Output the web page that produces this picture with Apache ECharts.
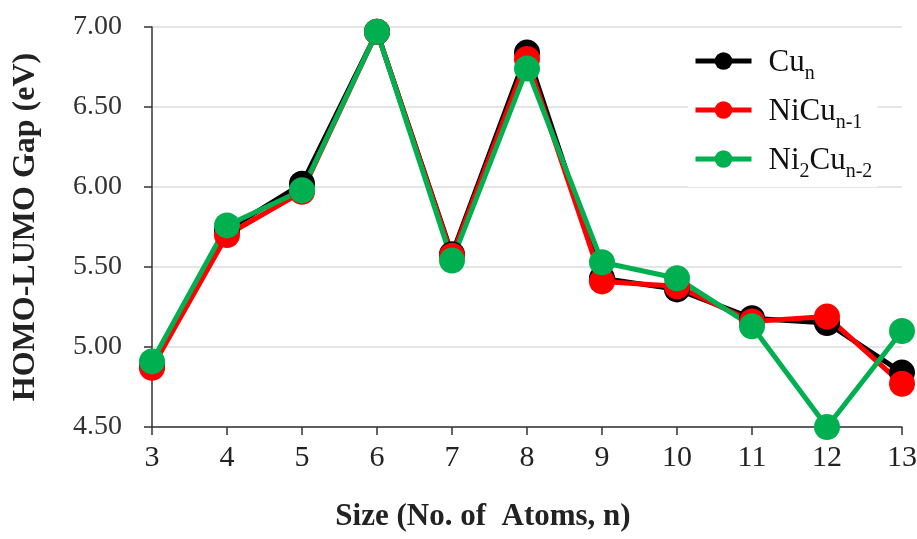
<!DOCTYPE html>
<html>
<head>
<meta charset="utf-8">
<script src="https://cdn.jsdelivr.net/npm/echarts@6/dist/echarts.min.js"></script>
<style>
  html, body { margin: 0; padding: 0; background: #fff; }
  #chart { width: 917px; height: 539px; }
</style>
</head>
<body>
<div id="chart"></div>
<script>
// cluster size n
const sizes = ["3", "4", "5", "6", "7", "8", "9", "10", "11", "12", "13"];
// HOMO-LUMO gaps (eV)
const cuN     = [4.88, 5.73, 6.02, 6.97, 5.58, 6.84, 5.43, 5.36, 5.18, 5.15, 4.84];
const niCuN1  = [4.87, 5.70, 5.97, 6.97, 5.57, 6.80, 5.41, 5.38, 5.16, 5.19, 4.77];
const ni2CuN2 = [4.91, 5.76, 5.98, 6.97, 5.54, 6.74, 5.53, 5.43, 5.13, 4.50, 5.10];
const yTicks = { min: 4.5, max: 7.0, step: 0.5 };

const seriesNames = ["Cu_n", "NiCu_n-1", "Ni2Cu_n-2"];
const seriesColors = ["#000000", "#ff0000", "#00b050"];

const serif = "'Liberation Serif', 'DejaVu Serif', serif";

function makeLine(name, data, color) {
  return {
    name: name,
    type: "line",
    data: data,
    symbol: "circle",
    symbolSize: 26,
    lineStyle: { color: color, width: 5 },
    itemStyle: { color: color },
    z: 3
  };
}

let chart = echarts.init(document.getElementById("chart"));
let option = {
  animation: false,
  backgroundColor: "#fff",
  grid: { left: 152, right: 15, top: 27, bottom: 112, outerBoundsMode: "none", containLabel: false },
  legend: {
    data: seriesNames,
    orient: "vertical",
    left: 688,
    top: 42,
    itemGap: 12,
    itemWidth: 56,
    itemHeight: 22,
    backgroundColor: "#fff",
    lineStyle: { width: 5 },
    formatter: function (name) {
      // subscripts for the formula names
      if (name === "Cu_n") return "{b|Cu}{s|n}";
      if (name === "NiCu_n-1") return "{b|NiCu}{s|n-1}";
      return "{b|Ni}{s|2}{b|Cu}{s|n-2}";
    },
    textStyle: {
      fontFamily: serif,
      padding: [0, 0, 0, 12],
      rich: {
        b: { fontFamily: serif, fontSize: 31, color: "#111", lineHeight: 34, verticalAlign: "bottom" },
        s: { fontFamily: serif, fontSize: 20, color: "#111", lineHeight: 34, verticalAlign: "bottom", padding: [0, 0, -6, 0] }
      }
    }
  },
  xAxis: {
    type: "category",
    data: sizes,
    boundaryGap: false,
    name: "Size (No. of  Atoms, n)",
    nameLocation: "middle",
    nameGap: 74,
    nameTextStyle: {
      fontFamily: serif, fontWeight: "bold", fontSize: 31, color: "#222",
      padding: [0, 88, 0, 0]
    },
    axisLine: { lineStyle: { color: "#333", width: 1.5 } },
    axisTick: { show: true, alignWithLabel: true, length: 8, lineStyle: { color: "#333", width: 1.5 } },
    axisLabel: { fontFamily: serif, fontSize: 30, color: "#222", margin: 16 },
    splitLine: { show: false }
  },
  yAxis: {
    type: "value",
    min: yTicks.min,
    max: yTicks.max,
    interval: yTicks.step,
    name: "HOMO-LUMO Gap (eV)",
    nameLocation: "middle",
    nameRotate: 90,
    nameGap: 110,
    nameTextStyle: { fontFamily: serif, fontWeight: "bold", fontSize: 32, color: "#222" },
    axisLine: { show: true, lineStyle: { color: "#333", width: 1.5 } },
    axisTick: { show: true, length: 8, lineStyle: { color: "#333", width: 1.5 } },
    axisLabel: {
      fontFamily: serif, fontSize: 28, color: "#333", margin: 30,
      formatter: function (v) { return v.toFixed(2); }
    },
    splitLine: { show: true, lineStyle: { color: "#dcdcdc", width: 1.5 } }
  },
  series: [
    makeLine(seriesNames[0], cuN, seriesColors[0]),
    makeLine(seriesNames[1], niCuN1, seriesColors[1]),
    makeLine(seriesNames[2], ni2CuN2, seriesColors[2])
  ]
};
chart.setOption(option);
</script>
</body>
</html>
